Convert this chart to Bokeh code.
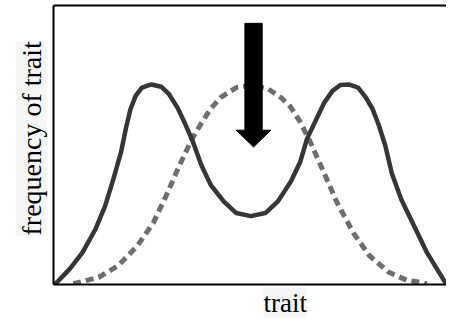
from bokeh.plotting import figure
from bokeh.models import LinearAxis, FixedTicker, Range1d, Title
from bokeh.embed import file_html
from bokeh.resources import INLINE

# bimodal (solid) distribution
x_solid = [0, 0.9, 4.2, 7.4, 10.7, 13.1, 15.2, 17.2, 18.4, 19.6, 20.9, 22.5, 24.9, 27.4, 29.4, 31.5, 33.5, 35.5, 37.6, 40.0,
           43.3, 46.5, 50.2, 53.9, 57.1, 60.4, 62.8, 64.5, 66.9, 68.9, 71.0, 73.0, 75.1, 77.5, 79.5, 81.2, 82.8, 84.4, 86.1,
           88.5, 91.8, 95.0, 98.3, 100]
y_solid = [0, 0.8, 5.7, 11.5, 19.9, 28.0, 37.6, 47.5, 55.8, 62.9, 67.6, 70.6, 71.7, 70.9, 68.2, 63.5, 57.6, 51.1, 42.8, 35.7,
           29.8, 25.6, 24.5, 25.6, 29.8, 36.9, 44.0, 52.2, 59.3, 65.2, 69.4, 71.5, 71.7, 70.6, 67.0, 62.9, 57.0, 49.9, 39.8,
           30.5, 20.9, 11.5, 3.9, 0]

# unimodal (dashed) distribution
x_dash = [5.0, 6.6, 11.5, 16.4, 21.3, 25.4, 28.6, 31.9, 35.1, 37.5, 40.0, 42.5, 46.5, 50.6, 54.7, 57.9, 60.4, 62.8, 65.2,
          68.9, 72.2, 76.3, 80.4, 85.3, 90.1, 93.4, 95.0]
y_dash = [0.3, 0.8, 2.6, 6.7, 13.8, 22.1, 31.6, 42.2, 51.8, 57.5, 63.0, 67.0, 70.6, 71.4, 70.0, 67.0, 63.5, 58.2, 51.5,
          39.8, 29.2, 18.5, 10.3, 4.4, 1.4, 0.8, 0.3]

x_label = "trait"
y_label = "frequency of trait"

# arrow (data units)
arrow_cx = 50.9
arrow_top = 93.6
head_base = 55.3
arrow_tip = 49.3
shaft_hw = 2.2
head_hw = 4.4

p = figure(width=446, height=318, output_backend="svg", toolbar_location=None,
           x_range=Range1d(0, 100), y_range=Range1d(0, 100),
           min_border_left=53, min_border_right=0, min_border_top=5, min_border_bottom=29)
p.outline_line_color = None
p.grid.visible = False
p.background_fill_color = "white"
p.border_fill_color = "white"

for ax in [p.xaxis[0], p.yaxis[0]]:
    ax.ticker = FixedTicker(ticks=[])
    ax.major_label_text_font_size = "0px"
    ax.axis_line_width = 2
    ax.axis_line_color = "black"
    ax.major_tick_line_color = None
    ax.minor_tick_line_color = None

top = LinearAxis(ticker=FixedTicker(ticks=[]), major_label_text_font_size="0px",
                 axis_line_width=2, axis_line_color="black",
                 major_tick_line_color=None, minor_tick_line_color=None)
p.add_layout(top, "above")

p.line(x_dash, y_dash, line_color="#6e6e6e", line_width=5, line_dash="8 5")
p.line(x_solid, y_solid, line_color="#363636", line_width=4.5, line_join="round", line_cap="round")

ax_ = [arrow_cx - shaft_hw, arrow_cx + shaft_hw, arrow_cx + shaft_hw, arrow_cx + head_hw, arrow_cx,
       arrow_cx - head_hw, arrow_cx - shaft_hw]
ay_ = [arrow_top, arrow_top, head_base, head_base, arrow_tip, head_base, head_base]
p.patch(ax_, ay_, fill_color="black", line_color="black", line_width=1)

p.add_layout(Title(text=x_label, text_font="Liberation Serif", text_font_size="27px", text_font_style="normal",
                   align="left", offset=210, text_color="black", standoff=2,
                   background_fill_color="#f6f6f6"), "below")
p.add_layout(Title(text=y_label, text_font="Liberation Serif", text_font_size="28px", text_font_style="normal",
                   align="left", offset=49, text_color="black", standoff=13,
                   background_fill_color="#f6f6f6"), "left")

open("out.html", "w").write(file_html(p, INLINE))
